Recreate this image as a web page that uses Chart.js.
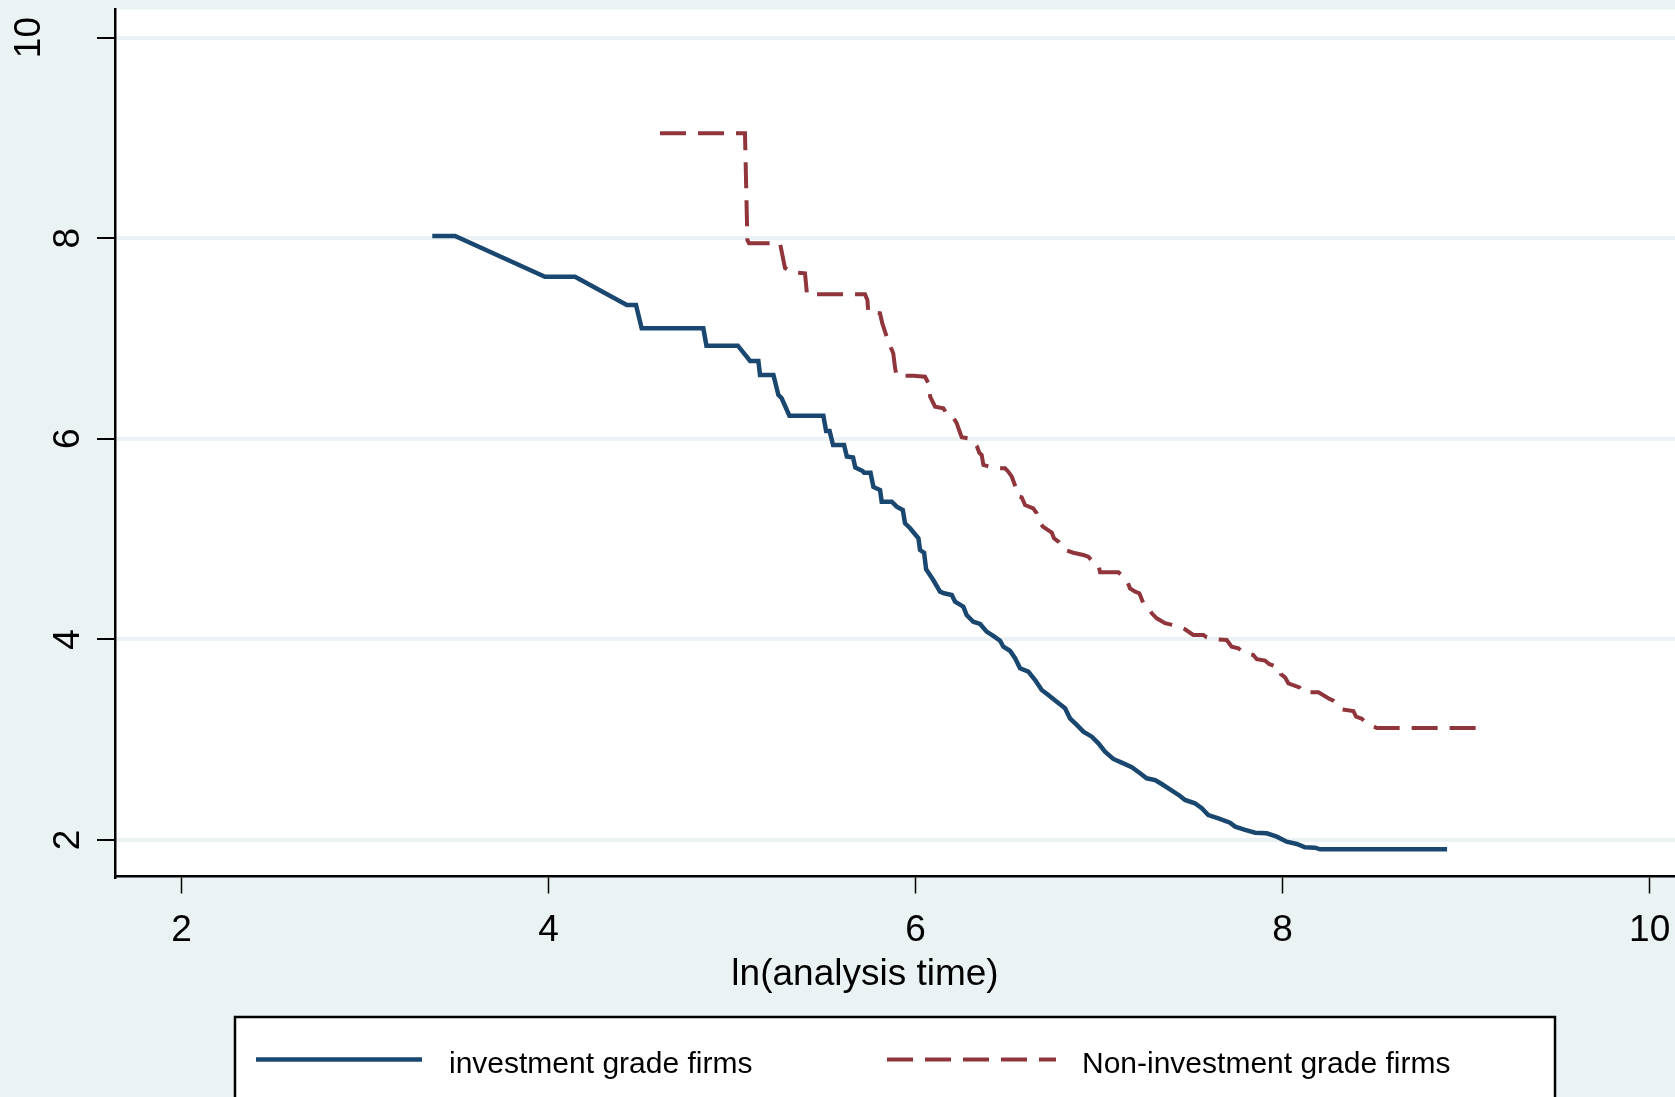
<!DOCTYPE html>
<html>
<head>
<meta charset="utf-8">
<script src="https://cdn.jsdelivr.net/npm/chart.js@4.4.1/dist/chart.umd.min.js"></script>
<style>
  html, body { margin: 0; padding: 0; background: #eaf2f3; }
  canvas { display: block; }
</style>
</head>
<body>
<canvas id="chart" width="1675" height="1097"></canvas>
<script>
// ln(analysis time) vs -ln(-ln(survival))
const xTicks = [2, 4, 6, 8, 10];
const yTicks = [2, 4, 6, 8, 10];
const seriesNames = ["investment grade firms", "Non-investment grade firms"];

const invX = [3.366,3.490,3.980,4.144,4.426,4.476,4.507,4.843,4.860,5.031,
  5.098,5.143,5.152,5.225,5.252,5.270,5.312,5.497,5.512,5.531,
  5.550,5.610,5.625,5.659,5.671,5.711,5.719,5.754,5.770,5.806,
  5.815,5.870,5.897,5.930,5.942,5.970,6.015,6.024,6.046,6.057,
  6.096,6.133,6.155,6.197,6.215,6.260,6.278,6.314,6.351,6.387,
  6.423,6.460,6.478,6.514,6.542,6.569,6.614,6.651,6.687,6.723,
  6.769,6.814,6.841,6.878,6.914,6.960,6.996,7.032,7.077,7.123,
  7.178,7.223,7.259,7.305,7.341,7.386,7.441,7.468,7.522,7.559,
  7.595,7.650,7.713,7.741,7.795,7.850,7.913,7.968,8.022,8.077,
  8.122,8.177,8.204,8.896];
const invY = [8.022,8.022,7.616,7.616,7.334,7.334,7.102,7.102,6.928,6.928,
  6.776,6.776,6.636,6.636,6.437,6.404,6.230,6.230,6.078,6.078,
  5.938,5.938,5.824,5.814,5.714,5.679,5.662,5.662,5.519,5.490,
  5.373,5.373,5.323,5.290,5.158,5.108,5.008,4.891,4.864,4.699,
  4.592,4.476,4.460,4.443,4.376,4.326,4.243,4.176,4.154,4.077,
  4.034,3.987,3.927,3.887,3.812,3.712,3.678,3.595,3.496,3.446,
  3.379,3.313,3.213,3.147,3.080,3.030,2.964,2.880,2.808,2.771,
  2.725,2.665,2.615,2.598,2.558,2.505,2.439,2.399,2.366,2.316,
  2.249,2.216,2.172,2.133,2.100,2.073,2.067,2.033,1.983,1.960,
  1.927,1.923,1.907,1.907];

const nonX = [4.607,5.070,5.083,5.092,5.261,5.288,5.325,5.397,5.408,5.724,
  5.737,5.742,5.806,5.818,5.839,5.851,5.878,5.888,5.897,5.987,
  6.051,6.075,6.079,6.106,6.151,6.169,6.197,6.224,6.243,6.251,
  6.287,6.333,6.347,6.360,6.369,6.433,6.487,6.505,6.524,6.547,
  6.556,6.578,6.596,6.641,6.660,6.669,6.693,6.742,6.754,6.778,
  6.805,6.859,6.914,6.941,6.965,6.996,7.005,7.105,7.150,7.168,
  7.196,7.219,7.241,7.268,7.287,7.314,7.359,7.423,7.468,7.513,
  7.568,7.586,7.637,7.695,7.722,7.759,7.783,7.840,7.859,7.904,
  7.928,7.982,7.990,8.013,8.031,8.091,8.113,8.195,8.249,8.276,
  8.295,8.322,8.385,8.400,8.431,8.455,8.513,9.070];
const nonY = [9.046,9.046,7.982,7.949,7.949,7.703,7.660,7.650,7.441,7.441,
  7.384,7.261,7.251,7.152,7.035,6.968,6.852,6.703,6.629,6.629,
  6.619,6.536,6.420,6.320,6.304,6.254,6.237,6.155,6.055,6.015,
  6.005,5.928,5.861,5.839,5.739,5.706,5.706,5.672,5.622,5.507,
  5.430,5.417,5.340,5.307,5.257,5.190,5.124,5.064,5.008,4.974,
  4.898,4.864,4.841,4.825,4.775,4.742,4.669,4.669,4.592,4.509,
  4.476,4.460,4.360,4.310,4.260,4.210,4.161,4.134,4.101,4.044,
  4.044,4.021,4.001,3.994,3.927,3.911,3.871,3.844,3.802,3.788,
  3.752,3.718,3.655,3.622,3.562,3.522,3.473,3.473,3.413,3.389,
  3.356,3.303,3.286,3.229,3.209,3.164,3.117,3.117];

const FONT = '"Liberation Sans", Arial, sans-serif';
const BG = "#eaf2f3";
const toPoints = (xs, ys) => xs.map((x, i) => ({ x: x, y: ys[i] }));

// fond, zone blanche, étiquettes verticales, titre et légende façon Stata
const stataDecor = {
    id: "stataDecor",
    beforeDraw(chart) {
        const { ctx, chartArea: a } = chart;
        ctx.save();
        ctx.fillStyle = BG;
        ctx.fillRect(0, 0, chart.width, chart.height);
        ctx.fillStyle = "#ffffff";
        ctx.fillRect(a.left, a.top, a.right - a.left, a.bottom - a.top);
        ctx.restore();
    },
    afterDraw(chart) {
        const ctx = chart.ctx;
        const ys = chart.scales.y;
        ctx.save();
        ctx.fillStyle = "#000";

        // y tick labels, rotated
        ctx.font = "37px " + FONT;
        ctx.textAlign = "center";
        ctx.textBaseline = "alphabetic";
        ys.ticks.forEach(t => {
            const label = String(t.value);
            const bx = label.length > 1 ? 40 : 78.5;
            ctx.save();
            ctx.translate(bx, ys.getPixelForValue(t.value));
            ctx.rotate(-Math.PI / 2);
            ctx.fillText(label, 0, 0);
            ctx.restore();
        });

        // x axis title
        ctx.fillText("ln(analysis time)", 865, 985);

        // legend box
        ctx.fillStyle = "#ffffff";
        ctx.fillRect(235, 1017, 1320, 100);
        ctx.strokeStyle = "#000";
        ctx.lineWidth = 2.5;
        ctx.strokeRect(235, 1017, 1320, 100);

        const items = [
            { x0: 256, x1: 422, tx: 449 },
            { x0: 887, x1: 1056, tx: 1082 }
        ];
        ctx.font = "30px " + FONT;
        ctx.textAlign = "left";
        chart.data.datasets.forEach((ds, i) => {
            const it = items[i];
            ctx.save();
            ctx.strokeStyle = ds.borderColor;
            ctx.lineWidth = ds.borderWidth;
            ctx.setLineDash(ds.borderDash || []);
            ctx.beginPath();
            ctx.moveTo(it.x0, 1059.5);
            ctx.lineTo(it.x1, 1059.5);
            ctx.stroke();
            ctx.restore();
            ctx.fillStyle = "#000";
            ctx.fillText(ds.label, it.tx, 1072.5);
        });
        ctx.restore();
    }
};

new Chart(document.getElementById("chart").getContext("2d"), {
    type: "line",
    data: {
        datasets: [
            {
                label: seriesNames[0],
                data: toPoints(invX, invY),
                borderColor: "#1a476f",
                borderWidth: 4.5,
                pointRadius: 0,
                tension: 0,
                fill: false
            },
            {
                label: seriesNames[1],
                data: toPoints(nonX, nonY),
                borderColor: "#90353b",
                borderWidth: 4,
                borderDash: [26, 12],
                pointRadius: 0,
                tension: 0,
                fill: false
            }
        ]
    },
    options: {
        responsive: false,
        animation: false,
        devicePixelRatio: 1,
        layout: { padding: { top: 9.5, right: 0, bottom: 100.5, left: 0 } },
        plugins: {
            legend: { display: false },
            title: { display: false },
            tooltip: { enabled: false }
        },
        scales: {
            x: {
                type: "linear",
                min: 1.637,
                max: 10.138,
                afterBuildTicks: s => { s.ticks = xTicks.map(v => ({ value: v })); },
                afterFit: s => {
                    s.height = 120;
                    s.paddingLeft = 0;
                    s.paddingRight = 0;
                },
                ticks: {
                    color: "#000",
                    padding: 15,
                    maxRotation: 0,
                    font: { family: FONT, size: 37 },
                    callback: v => String(v)
                },
                grid: {
                    drawOnChartArea: false,
                    drawTicks: true,
                    tickLength: 17,
                    tickColor: "#000",
                    tickWidth: 1.5
                },
                border: { display: true, color: "#000", width: 2.5 }
            },
            y: {
                type: "linear",
                min: 1.636,
                max: 10.28,
                afterBuildTicks: s => { s.ticks = yTicks.map(v => ({ value: v })); },
                afterFit: s => {
                    s.width = 115;
                    s.paddingTop = 0;
                    s.paddingBottom = 0;
                },
                ticks: { display: false },
                grid: {
                    color: BG,
                    lineWidth: 4,
                    drawTicks: true,
                    tickLength: 18,
                    tickColor: "#000",
                    tickWidth: 2
                },
                border: { display: true, color: "#000", width: 2.5 }
            }
        }
    },
    plugins: [stataDecor]
});
</script>
</body>
</html>
